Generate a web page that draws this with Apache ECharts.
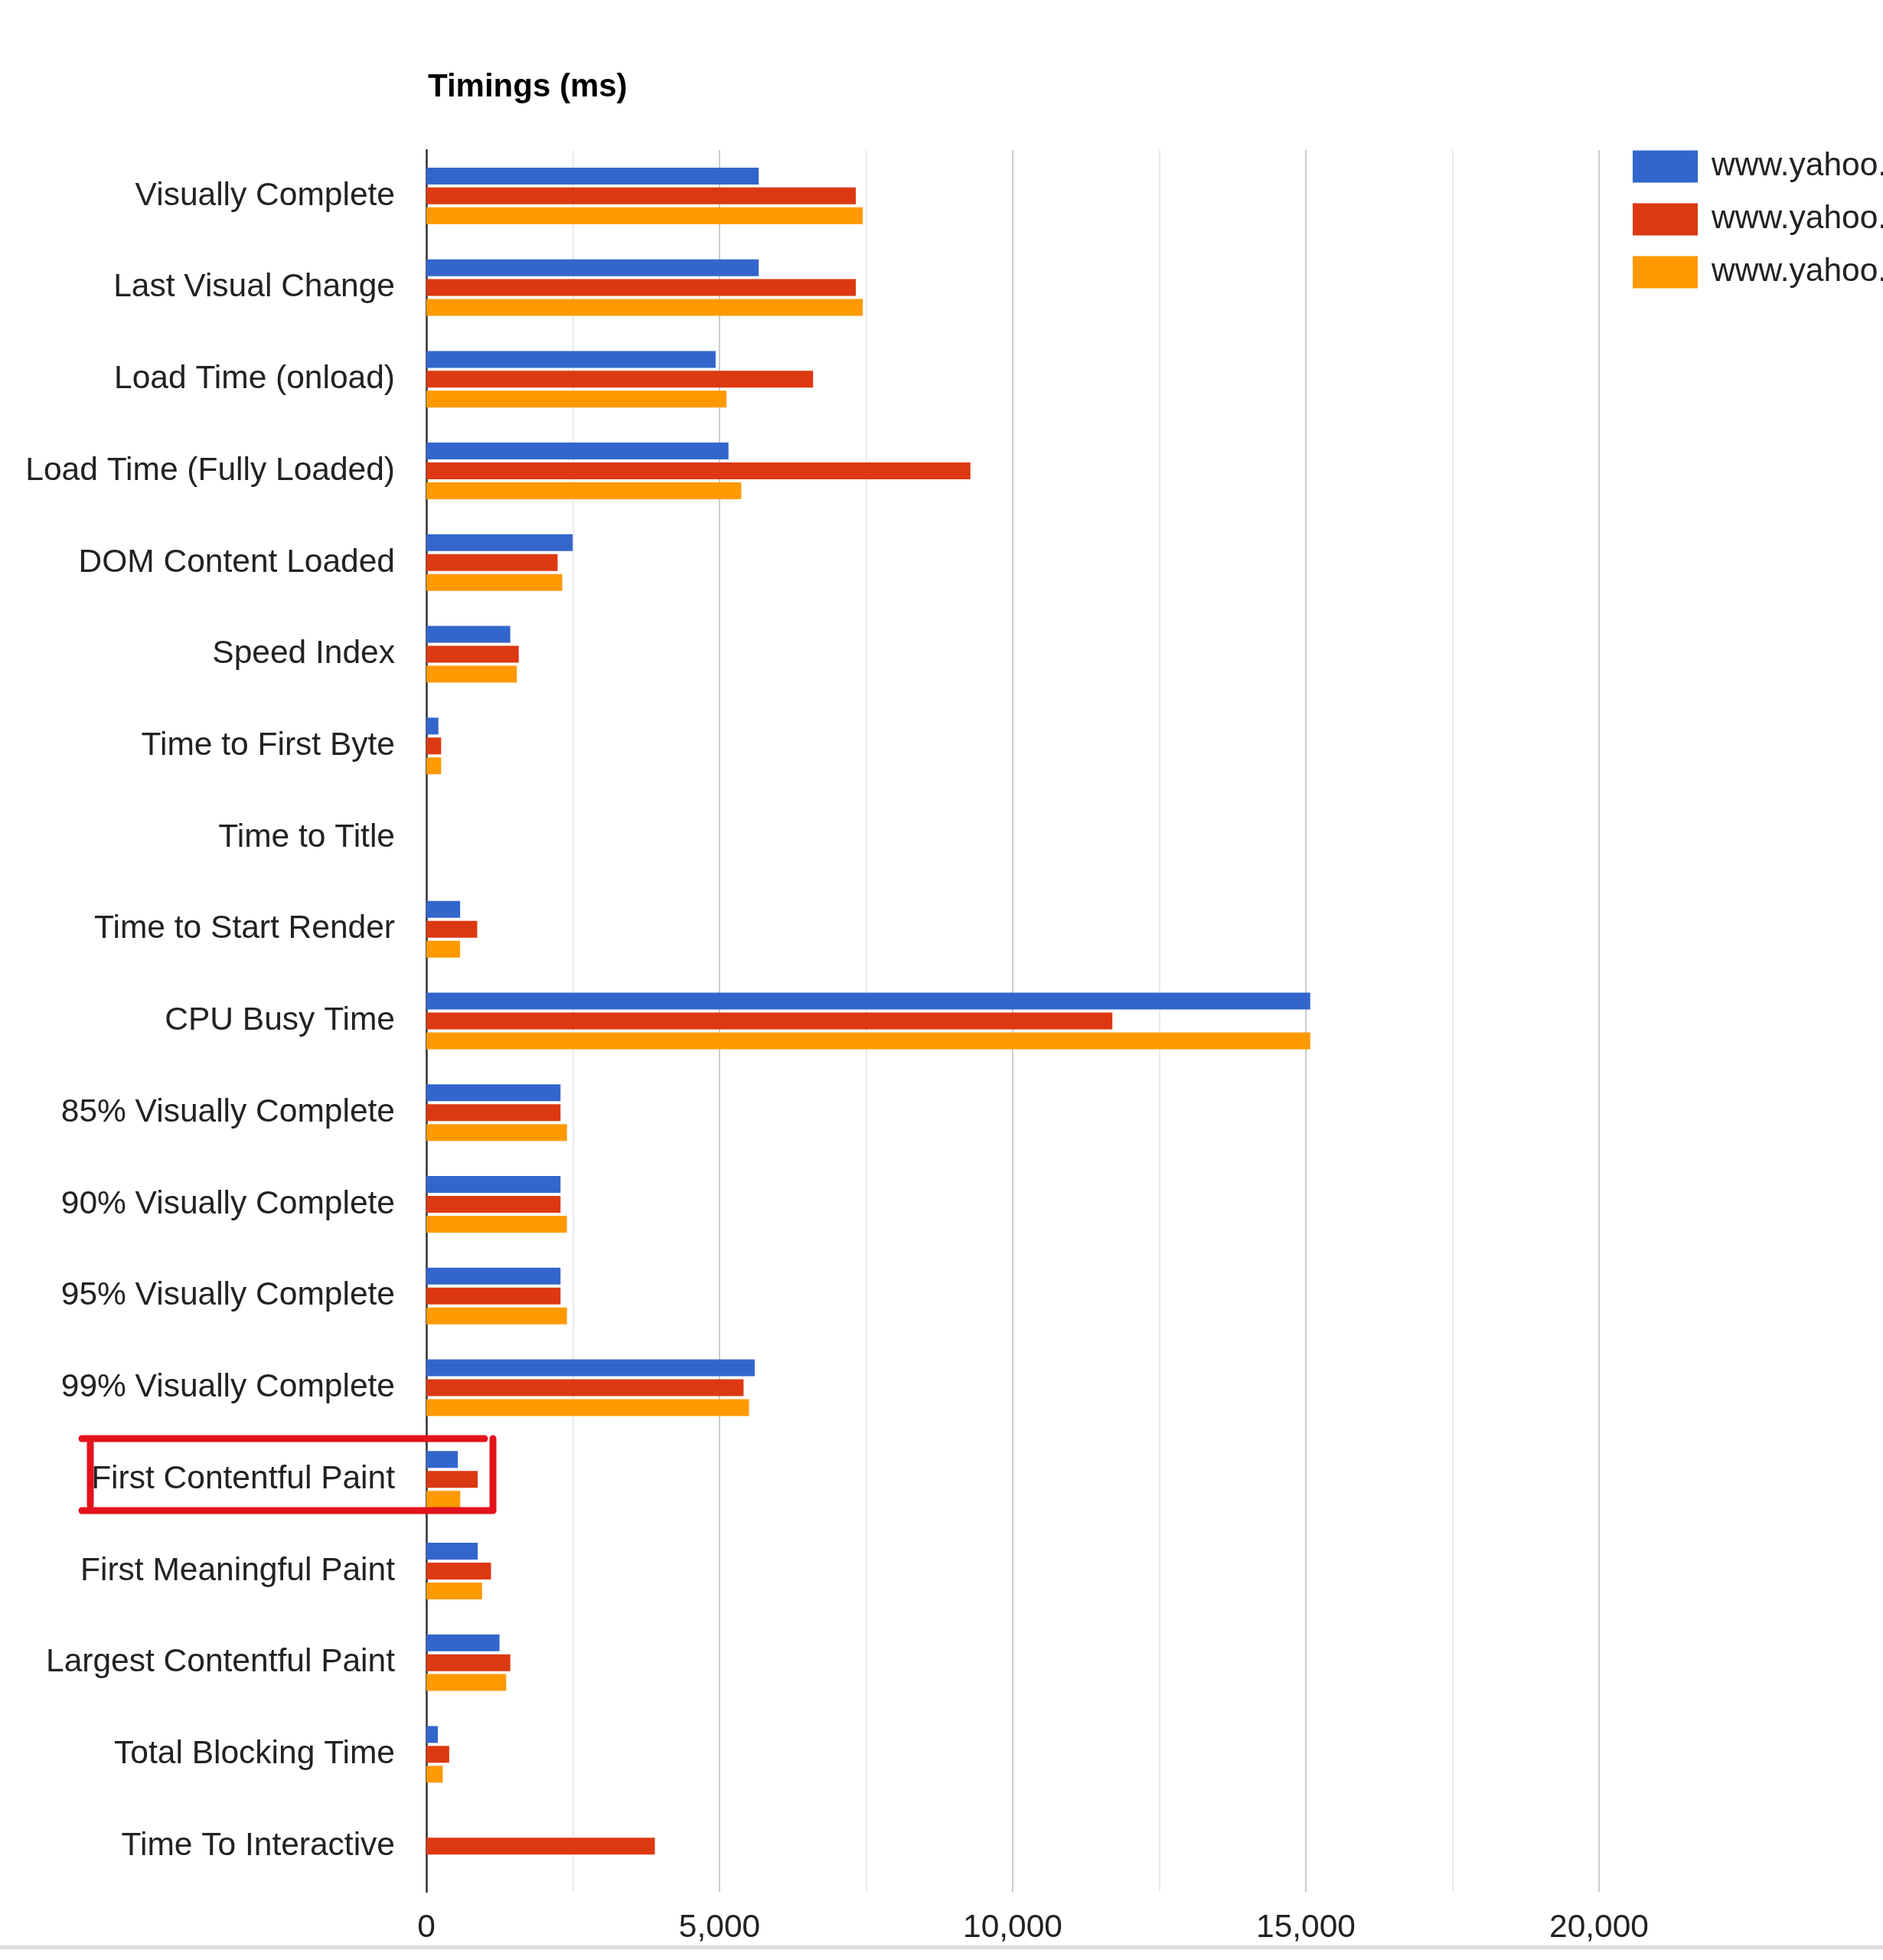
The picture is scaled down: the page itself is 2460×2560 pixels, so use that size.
<!DOCTYPE html>
<html>
<head>
<meta charset="utf-8">
<title>Timings (ms)</title>
<script src="https://cdn.jsdelivr.net/npm/echarts@6/dist/echarts.min.js"></script>
<style>
  html, body { margin: 0; padding: 0; background: #fff; }
  #main { width: 2460px; height: 2560px; }
</style>
</head>
<body>
<div id="main"></div>
<script>
const categories = [
    'Visually Complete', 'Last Visual Change', 'Load Time (onload)', 'Load Time (Fully Loaded)',
    'DOM Content Loaded', 'Speed Index', 'Time to First Byte', 'Time to Title',
    'Time to Start Render', 'CPU Busy Time', '85% Visually Complete', '90% Visually Complete',
    '95% Visually Complete', '99% Visually Complete', 'First Contentful Paint',
    'First Meaningful Paint', 'Largest Contentful Paint', 'Total Blocking Time', 'Time To Interactive'
];
const seriesNames = ['www.yahoo.com (1)', 'www.yahoo.com (2)', 'www.yahoo.com (3)'];
const run1 = [5669, 5669, 4934, 5153, 2495, 1431, 205, null, 576, 15075, 2288, 2288, 2288, 5600, 538, 876, 1248, 197, null];
const run2 = [7325, 7325, 6596, 9279, 2239, 1576, 252, null, 868, 11700, 2288, 2288, 2288, 5410, 876, 1103, 1432, 390, 3897];
const run3 = [7444, 7444, 5119, 5371, 2318, 1543, 252, null, 576, 15075, 2398, 2398, 2398, 5503, 578, 950, 1362, 280, null];
const colors = ['#3366cc', '#dc3912', '#ff9900'];
const xTicks = [0, 5000, 10000, 15000, 20000];

const font = "'Liberation Sans', Arial, sans-serif";
const chart = echarts.init(document.getElementById('main'));

const barSeries = [run1, run2, run3].map((values, i) => ({
    name: seriesNames[i],
    type: 'bar',
    data: values,
    color: colors[i],
    barWidth: 22,
    barGap: '18%'
}));

// hand drawn red box round "First Contentful Paint"
const boxLine = (x1, y1, x2, y2) => ({
    type: 'line',
    z: 100,
    shape: {x1, y1, x2, y2},
    style: {stroke: '#e3121b', lineWidth: 9, lineCap: 'round'}
});

const option = {
    animation: false,
    backgroundColor: '#fff',
    textStyle: {fontFamily: font},
    title: {
        text: 'Timings (ms)',
        left: 559,
        top: 93,
        padding: 0,
        textStyle: {fontFamily: font, fontSize: 42, fontWeight: 'bold', color: '#000'}
    },
    legend: {
        orient: 'vertical',
        left: 2133,
        top: 196,
        padding: 0,
        icon: 'rect',
        itemWidth: 85,
        itemHeight: 42,
        itemGap: 26,
        textStyle: {fontFamily: font, fontSize: 42.5, color: '#222', padding: [0, 0, 0, 13]}
    },
    grid: {left: 557, right: 371, top: 196, bottom: 89, containLabel: false},
    xAxis: {
        type: 'value',
        min: 0,
        max: 20000,
        interval: 5000,
        axisLine: {show: false},
        axisTick: {show: false},
        axisLabel: {
            fontFamily: font,
            fontSize: 42.5,
            color: '#222',
            margin: 26,
            formatter: v => xTicks.includes(v) ? v.toLocaleString('en-US') : ''
        },
        splitLine: {show: true, lineStyle: {color: '#cccccc', width: 2}},
        minorTick: {show: false, splitNumber: 2},
        minorSplitLine: {show: true, lineStyle: {color: '#ebebeb', width: 2}}
    },
    yAxis: {
        type: 'category',
        data: categories,
        inverse: true,
        axisTick: {show: false},
        axisLine: {show: true, lineStyle: {color: '#333', width: 2.5}},
        axisLabel: {fontFamily: font, fontSize: 42.5, color: '#222', margin: 41},
        splitLine: {show: false}
    },
    series: barSeries,
    graphic: [
        boxLine(107, 1879, 633, 1879),
        boxLine(644, 1879, 644, 1972),
        boxLine(107, 1973, 644, 1973),
        boxLine(118, 1885, 118, 1966),
        {
            type: 'rect',
            z: 100,
            shape: {x: 0, y: 2541, width: 2460, height: 5},
            style: {fill: '#dcdcdc'}
        }
    ]
};

chart.setOption(option);
</script>
</body>
</html>
